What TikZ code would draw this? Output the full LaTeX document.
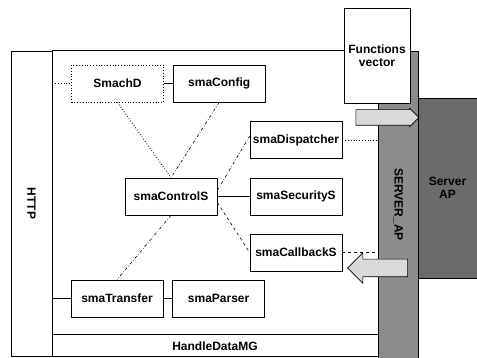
\documentclass[tikz,border=0pt]{standalone}
\usepackage{fontspec}
\setmainfont{Liberation Sans}
\usetikzlibrary{positioning, shapes.arrows}

\begin{document}
\begin{tikzpicture}[
    x=1pt, y=-1pt,
    node distance=9pt,
    font=\fontsize{12}{13.5}\selectfont\bfseries,
    modbox/.style={draw, minimum width=92pt, minimum height=37pt, inner sep=1pt},
    dotbox/.style={modbox, dotted, thick},
    fatarrow/.style={single arrow, draw, fill=gray!30, inner xsep=0pt, single arrow tip angle=90},
    line width=0.6pt
  ]
    \useasboundingbox (0,0) rectangle (477,358);
    % server side
    \node[draw, fill=black!45, minimum width=40pt, minimum height=307pt, inner sep=0pt] (sap) at (398,204.5)
      {\rotatebox{-90}{SERVER\_AP}};
    \node[draw, fill=black!58, minimum width=59pt, minimum height=180pt, align=center] (srv) at (447.5,188)
      {Server\\AP};
    \node[draw, fill=white, minimum width=66pt, minimum height=95pt, align=center, inner sep=0pt] (fvec) at (377,55.5)
      {Functions\\vector};
    \node[fatarrow, minimum height=63pt, inner ysep=7.5pt, single arrow head extend=1.5pt] (toap) at (383.5,117.5) {};
    \node[fatarrow, minimum height=60pt, inner ysep=8.5pt, single arrow head extend=6.5pt, shape border rotate=180] (fromap) at (382,268) {};
    % HTTP frame
    \node[draw, minimum width=41pt, minimum height=305pt, inner sep=0pt] (http) at (31.5,203.5)
      {\rotatebox{-90}{HTTP}};
    \coordinate (topr) at (fvec.west |- http.north);
    \coordinate (hdl) at (52,334);
    \draw (http.north east) -- (topr);
    \draw (http.south east) -- (http.south east -| sap.west);
    \draw (hdl) -- (hdl -| sap.west);
    \node (hdata) at (215,346) {HandleDataMG};
    % modules
    \node[dotbox] (smach) at (117.5,83.5) {SmachD};
    \node[modbox, right=of smach] (config) {smaConfig};
    \node[modbox] (ctrl) at (171,196.5) {smaControlS};
    \node[modbox] (disp) at (296,140) {smaDispatcher};
    \node[modbox] (secu) at (296,196.5) {smaSecurityS};
    \node[modbox] (cb) at (296,252.5) {smaCallbackS};
    \node[modbox] (trans) at (117,298.5) {smaTransfer};
    \node[modbox, right=of trans] (parse) {smaParser};
    % connectors
    \draw[dotted, thick] (smach.west -| http.east) -- (smach.west);
    \draw (smach) -- (config);
    \draw (trans.west -| http.east) -- (trans.west);
    \draw (trans) -- (parse);
    \draw[dotted, thick] (smach.south) -- (ctrl.north);
    \draw[dash dot] (config.south) -- (ctrl.north);
    \draw[dash dot] ([yshift=6pt]ctrl.east) -- ([yshift=4pt]disp.west);
    \draw (ctrl) -- (secu);
    \draw[dashed] ([yshift=-6pt]ctrl.east) -- (cb.west);
    \draw[dash dot] (ctrl.south) -- (trans.north);
    \draw[dotted, thick] (disp.east) -- (disp.east -| sap.west);
    \draw[dashed] (cb.east) -- (cb.east -| sap.west);
  \end{tikzpicture}
\end{document}
